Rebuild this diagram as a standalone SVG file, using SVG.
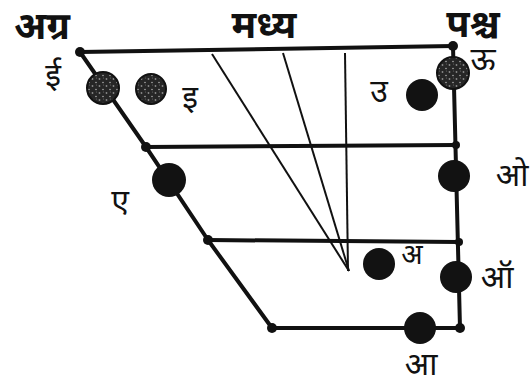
<svg xmlns="http://www.w3.org/2000/svg" width="531" height="389" viewBox="0 0 531 389">
<defs>
<pattern id="speck" width="7" height="7" patternUnits="userSpaceOnUse">
<rect width="7" height="7" fill="#262626"/>
<circle cx="1.5" cy="2" r="0.9" fill="#8a8a8a"/>
<circle cx="5" cy="5.5" r="0.8" fill="#aaa"/>
<circle cx="5.5" cy="1" r="0.6" fill="#666"/>
</pattern>
</defs>
<style>
.frame{stroke:#111;stroke-width:4;fill:none;stroke-linecap:round;stroke-linejoin:round}
.thin{stroke:#111;stroke-width:2;fill:none}
.dot{fill:#111}
.sp{fill:url(#speck);stroke:#111;stroke-width:2}
.so{fill:#121212}
.hd{font-family:"Noto Sans Devanagari","Noto Sans",sans-serif;font-size:38px;font-weight:bold;fill:#111;text-anchor:middle}
.lb{font-family:"Noto Sans Devanagari","Noto Sans",sans-serif;font-size:32px;fill:#111;text-anchor:middle}
</style>
<rect width="531" height="389" fill="#fff"/>
<g id="headers">
<text class="hd" x="42" y="39">अग्र</text>
<text class="hd" x="264" y="38">मध्य</text>
<text class="hd" x="473" y="37">पश्च</text>
</g>
<g id="connectors">
<polyline class="frame" points="80,52 146,147 208,240 272,328 460,328"/>
<line class="frame" x1="80" y1="52" x2="453" y2="46"/>
<line class="frame" x1="453" y1="46" x2="460" y2="328"/>
<line class="frame" x1="146" y1="147" x2="456" y2="145"/>
<line class="frame" x1="208" y1="240" x2="459" y2="242"/>
<line class="thin" x1="212" y1="54" x2="349" y2="271"/>
<line class="thin" x1="283" y1="53" x2="349" y2="271"/>
<line class="thin" x1="345" y1="53" x2="348" y2="271"/>
</g>
<g id="vertices">
<circle class="dot" cx="80" cy="52" r="5"/>
<circle class="dot" cx="453" cy="46" r="5"/>
<circle class="dot" cx="146" cy="147" r="5"/>
<circle class="dot" cx="208" cy="240" r="5"/>
<circle class="dot" cx="272" cy="328" r="5"/>
<circle class="dot" cx="456" cy="145" r="4"/>
<circle class="dot" cx="459" cy="242" r="4"/>
<circle class="dot" cx="460" cy="328" r="5"/>
</g>
<g id="v-ii"><circle class="sp" cx="103" cy="88" r="16"/><text class="lb" x="53" y="86">ई</text></g>
<g id="v-i"><circle class="sp" cx="151" cy="89" r="15"/><text class="lb" x="190" y="108">इ</text></g>
<g id="v-u"><circle class="so" cx="422" cy="95" r="16"/><text class="lb" x="379" y="102">उ</text></g>
<g id="v-uu"><circle class="sp" cx="453" cy="73" r="16"/><text class="lb" x="483" y="70">ऊ</text></g>
<g id="v-e"><circle class="so" cx="169" cy="180" r="17"/><text class="lb" x="120" y="212">ए</text></g>
<g id="v-o"><circle class="so" cx="454" cy="176" r="16"/><text class="lb" x="512" y="186">ओ</text></g>
<g id="v-a"><circle class="so" cx="379" cy="264" r="16"/><text class="lb" x="412" y="264" style="font-size:28px">अ</text></g>
<g id="v-aw"><circle class="so" cx="456" cy="277" r="16"/><text class="lb" x="497" y="288">ऑ</text></g>
<g id="v-aa"><circle class="so" cx="420" cy="328" r="16"/><text class="lb" x="421" y="375">आ</text></g>
</svg>
